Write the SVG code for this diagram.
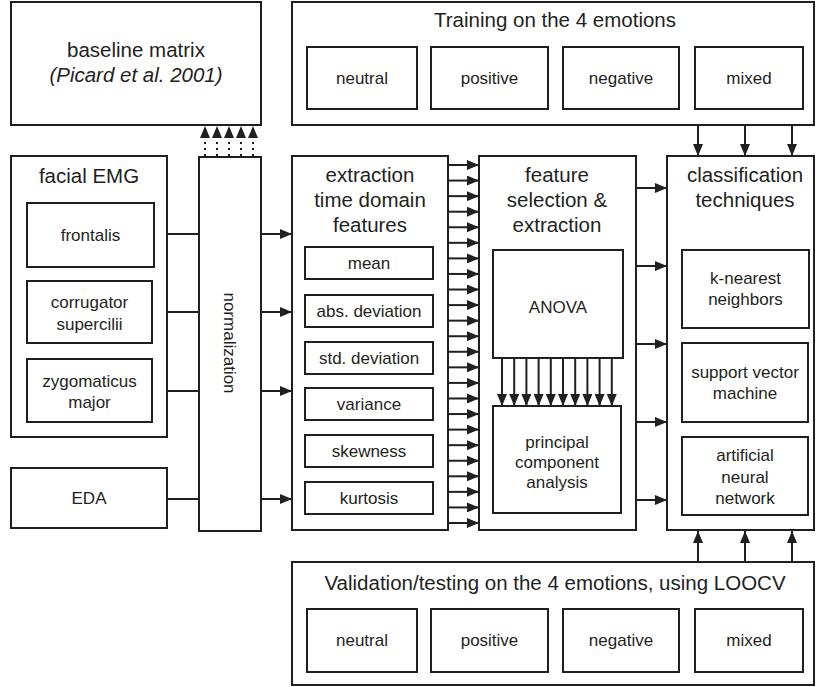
<svg xmlns="http://www.w3.org/2000/svg" width="816" height="687" viewBox="0 0 816 687">
<style>
.b{fill:#fff;stroke:#231f20;stroke-width:2}
.t{font-family:"Liberation Sans",Arial,sans-serif;font-size:17px;fill:#231f20;text-anchor:middle}
.h{font-family:"Liberation Sans",Arial,sans-serif;font-size:20.5px;fill:#231f20;text-anchor:middle}
.c{stroke:#231f20;stroke-width:2;fill:none}
.a{marker-end:url(#ah)}
.d{stroke-dasharray:2 4}
</style>
<defs>
<marker id="ah" markerUnits="userSpaceOnUse" markerWidth="12" markerHeight="10" viewBox="0 0 12 10" refX="12" refY="5" orient="auto">
<path d="M0,0 L12,5 L0,10 z" fill="#231f20"/>
</marker>
</defs>
<rect width="816" height="687" fill="#fff"/>

<g id="baseline">
<rect class="b" x="11" y="2" width="250" height="123"/>
<text class="h" x="136" y="57">baseline matrix</text>
<text class="h" x="136" y="82" font-style="italic">(Picard et al. 2001)</text>
</g>

<g id="training">
<rect class="b" x="292" y="2" width="522" height="123"/>
<text class="h" x="555" y="27">Training on the 4 emotions</text>
<rect class="b" x="307" y="47" width="110" height="62"/>
<text class="t" x="362" y="84">neutral</text>
<rect class="b" x="431" y="47" width="117" height="62"/>
<text class="t" x="489.5" y="84">positive</text>
<rect class="b" x="563" y="47" width="116" height="62"/>
<text class="t" x="621" y="84">negative</text>
<rect class="b" x="695" y="47" width="108" height="62"/>
<text class="t" x="749" y="84">mixed</text>
</g>

<g id="facialEMG">
<rect class="b" x="11" y="156" width="156" height="281"/>
<text class="h" x="89" y="183">facial EMG</text>
<rect class="b" x="27" y="203" width="127" height="64"/>
<text class="t" x="90.5" y="241">frontalis</text>
<rect class="b" x="27" y="281" width="125" height="62"/>
<text class="t" x="89.5" y="308">corrugator</text>
<text class="t" x="89.5" y="330">supercilii</text>
<rect class="b" x="27" y="359" width="125" height="63"/>
<text class="t" x="89.5" y="387">zygomaticus</text>
<text class="t" x="89.5" y="408">major</text>
</g>

<g id="eda">
<rect class="b" x="11" y="468" width="156" height="60"/>
<text class="t" x="89" y="504">EDA</text>
</g>

<g id="normalization">
<rect class="b" x="199" y="157" width="62" height="374"/>
<text class="t" transform="translate(230,343) rotate(90)" y="6">normalization</text>
</g>

<g id="extraction">
<rect class="b" x="292" y="156" width="156" height="374"/>
<text class="h" x="370" y="182">extraction</text>
<text class="h" x="370" y="207">time domain</text>
<text class="h" x="370" y="232">features</text>
<rect class="b" x="305" y="247" width="128" height="32"/>
<text class="t" x="369" y="269">mean</text>
<rect class="b" x="305" y="295" width="128" height="32"/>
<text class="t" x="369" y="317">abs. deviation</text>
<rect class="b" x="305" y="342" width="128" height="32"/>
<text class="t" x="369" y="364">std. deviation</text>
<rect class="b" x="305" y="388" width="128" height="32"/>
<text class="t" x="369" y="410">variance</text>
<rect class="b" x="305" y="435" width="128" height="32"/>
<text class="t" x="369" y="457">skewness</text>
<rect class="b" x="305" y="482" width="128" height="32"/>
<text class="t" x="369" y="504">kurtosis</text>
</g>

<g id="featureSelection">
<rect class="b" x="479" y="156" width="157" height="374"/>
<text class="h" x="557" y="182">feature</text>
<text class="h" x="557" y="207">selection &amp;</text>
<text class="h" x="557" y="232">extraction</text>
<rect class="b" x="493" y="250" width="130" height="108"/>
<text class="t" x="558" y="313">ANOVA</text>
<rect class="b" x="493" y="406" width="128" height="107"/>
<text class="t" x="557" y="448">principal</text>
<text class="t" x="557" y="468">component</text>
<text class="t" x="557" y="488">analysis</text>
</g>

<g id="classification">
<rect class="b" x="667" y="156" width="147" height="374"/>
<text class="h" x="745" y="182">classification</text>
<text class="h" x="745" y="207">techniques</text>
<rect class="b" x="682" y="250" width="127" height="78"/>
<text class="t" x="745.5" y="284">k-nearest</text>
<text class="t" x="745.5" y="305">neighbors</text>
<rect class="b" x="682" y="343" width="126" height="79"/>
<text class="t" x="745" y="378">support vector</text>
<text class="t" x="745" y="399">machine</text>
<rect class="b" x="682" y="437" width="126" height="78"/>
<text class="t" x="745" y="461">artificial</text>
<text class="t" x="745" y="483">neural</text>
<text class="t" x="745" y="504">network</text>
</g>

<g id="validation">
<rect class="b" x="292" y="562" width="522" height="123"/>
<text class="h" x="555" y="590">Validation/testing on the 4 emotions, using LOOCV</text>
<rect class="b" x="307" y="609" width="110" height="63"/>
<text class="t" x="362" y="646">neutral</text>
<rect class="b" x="431" y="609" width="117" height="63"/>
<text class="t" x="489.5" y="646">positive</text>
<rect class="b" x="563" y="609" width="116" height="63"/>
<text class="t" x="621" y="646">negative</text>
<rect class="b" x="695" y="609" width="108" height="63"/>
<text class="t" x="749" y="646">mixed</text>
</g>

<g id="connectors">
<g class="c d">
<line class="a" x1="205" y1="156" x2="205" y2="126"/>
<line class="a" x1="217" y1="156" x2="217" y2="126"/>
<line class="a" x1="229" y1="156" x2="229" y2="126"/>
<line class="a" x1="241" y1="156" x2="241" y2="126"/>
<line class="a" x1="253" y1="156" x2="253" y2="126"/>
</g>
<g class="c">
<line x1="167" y1="234" x2="199" y2="234"/>
<line x1="167" y1="312" x2="199" y2="312"/>
<line x1="167" y1="391" x2="199" y2="391"/>
<line x1="167" y1="499" x2="199" y2="499"/>
<line class="a" x1="261" y1="234" x2="292" y2="234"/>
<line class="a" x1="261" y1="312" x2="292" y2="312"/>
<line class="a" x1="261" y1="391" x2="292" y2="391"/>
<line class="a" x1="261" y1="499" x2="292" y2="499"/>
<line class="a" x1="448" y1="165" x2="479" y2="165"/>
<line class="a" x1="448" y1="180.57" x2="479" y2="180.57"/>
<line class="a" x1="448" y1="196.13" x2="479" y2="196.13"/>
<line class="a" x1="448" y1="211.7" x2="479" y2="211.7"/>
<line class="a" x1="448" y1="227.26" x2="479" y2="227.26"/>
<line class="a" x1="448" y1="242.83" x2="479" y2="242.83"/>
<line class="a" x1="448" y1="258.39" x2="479" y2="258.39"/>
<line class="a" x1="448" y1="273.96" x2="479" y2="273.96"/>
<line class="a" x1="448" y1="289.52" x2="479" y2="289.52"/>
<line class="a" x1="448" y1="305.09" x2="479" y2="305.09"/>
<line class="a" x1="448" y1="320.65" x2="479" y2="320.65"/>
<line class="a" x1="448" y1="336.22" x2="479" y2="336.22"/>
<line class="a" x1="448" y1="351.78" x2="479" y2="351.78"/>
<line class="a" x1="448" y1="367.35" x2="479" y2="367.35"/>
<line class="a" x1="448" y1="382.91" x2="479" y2="382.91"/>
<line class="a" x1="448" y1="398.48" x2="479" y2="398.48"/>
<line class="a" x1="448" y1="414.04" x2="479" y2="414.04"/>
<line class="a" x1="448" y1="429.61" x2="479" y2="429.61"/>
<line class="a" x1="448" y1="445.17" x2="479" y2="445.17"/>
<line class="a" x1="448" y1="460.74" x2="479" y2="460.74"/>
<line class="a" x1="448" y1="476.3" x2="479" y2="476.3"/>
<line class="a" x1="448" y1="491.87" x2="479" y2="491.87"/>
<line class="a" x1="448" y1="507.43" x2="479" y2="507.43"/>
<line class="a" x1="448" y1="523" x2="479" y2="523"/>
<line class="a" x1="502" y1="358" x2="502" y2="406"/>
<line class="a" x1="514.2" y1="358" x2="514.2" y2="406"/>
<line class="a" x1="526.4" y1="358" x2="526.4" y2="406"/>
<line class="a" x1="538.6" y1="358" x2="538.6" y2="406"/>
<line class="a" x1="550.8" y1="358" x2="550.8" y2="406"/>
<line class="a" x1="563" y1="358" x2="563" y2="406"/>
<line class="a" x1="575.2" y1="358" x2="575.2" y2="406"/>
<line class="a" x1="587.4" y1="358" x2="587.4" y2="406"/>
<line class="a" x1="599.6" y1="358" x2="599.6" y2="406"/>
<line class="a" x1="611.8" y1="358" x2="611.8" y2="406"/>
<line class="a" x1="636" y1="188" x2="667" y2="188"/>
<line class="a" x1="636" y1="266" x2="667" y2="266"/>
<line class="a" x1="636" y1="344" x2="667" y2="344"/>
<line class="a" x1="636" y1="422" x2="667" y2="422"/>
<line class="a" x1="636" y1="500" x2="667" y2="500"/>
<line class="a" x1="698" y1="125" x2="698" y2="156"/>
<line class="a" x1="745" y1="125" x2="745" y2="156"/>
<line class="a" x1="792" y1="125" x2="792" y2="156"/>
<line class="a" x1="698" y1="562" x2="698" y2="531"/>
<line class="a" x1="745" y1="562" x2="745" y2="531"/>
<line class="a" x1="792" y1="562" x2="792" y2="531"/>
</g>
</g>
</svg>
